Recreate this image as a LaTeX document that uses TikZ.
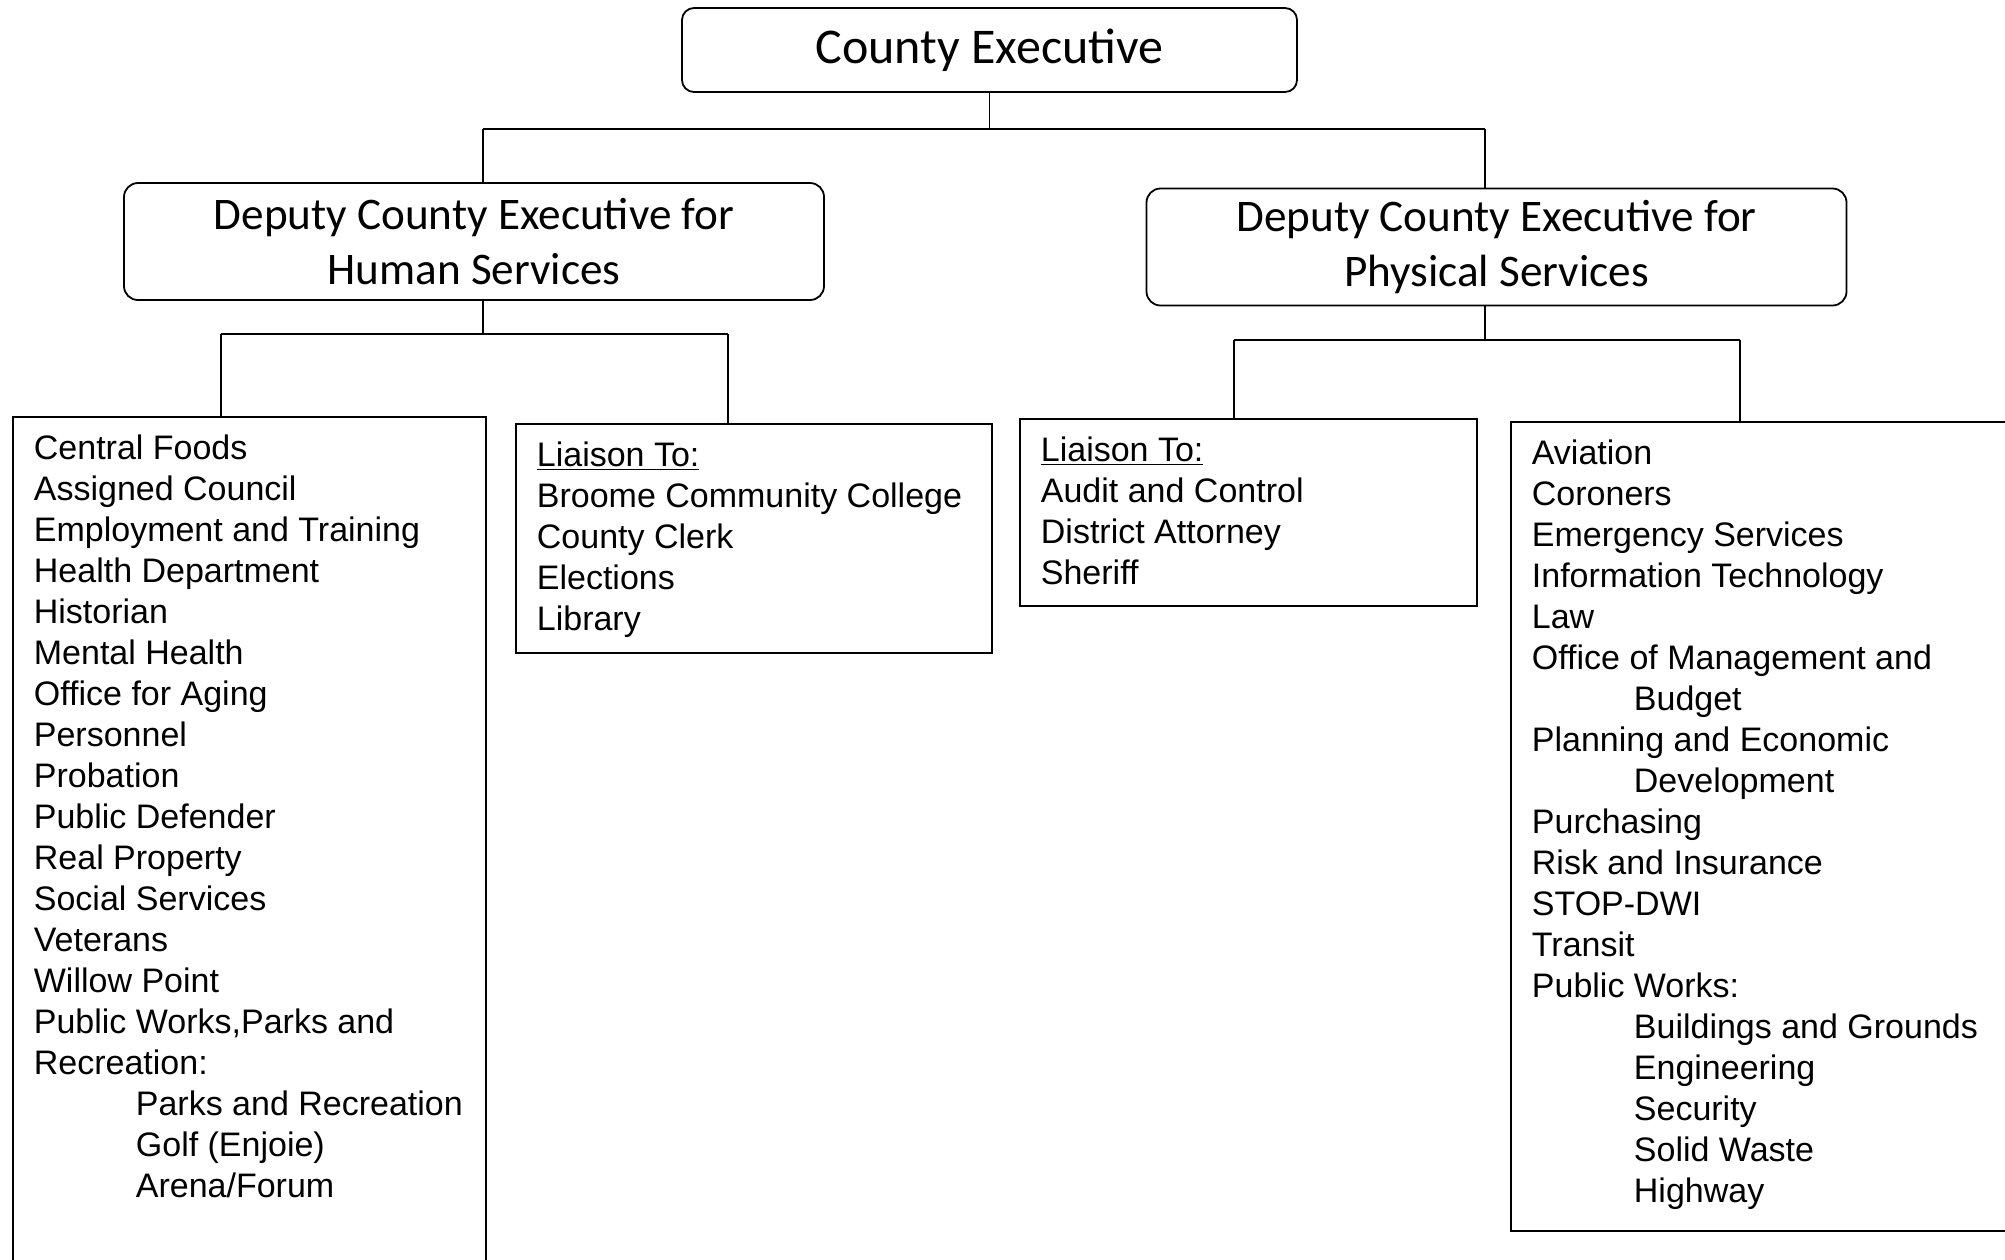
\documentclass[tikz,border=0pt]{standalone}
\usepackage{fontspec}
\setmainfont{Liberation Sans}
\newfontfamily\calfont{Carlito}
\tikzset{
  exec/.style={draw, rounded corners=6pt, line width=0.9pt, minimum width=307.5pt, minimum height=42pt,
    font=\calfont\fontsize{25pt}{30pt}\selectfont},
  deputy/.style={draw, rounded corners=7pt, line width=0.9pt, align=center, minimum width=350pt, minimum height=58.5pt,
    font=\calfont\fontsize{22.6pt}{27.5pt}\selectfont},
  listbox/.style={draw, line width=0.9pt, inner xsep=10.5pt, inner ysep=7pt, anchor=north west,
    font=\fontsize{17pt}{20.5pt}\selectfont},
  conn/.style={line width=0.8pt}
}
\newcommand{\ind}{\hspace*{51pt}}
\begin{document}
\begin{tikzpicture}[x=0.5pt,y=-0.5pt]
        \clip (0,0) rectangle (2005,1259);
        \fill[white] (0,0) rectangle (2005,1259);
        \node[exec] (exec) at (989.5,50) {County Executive};
        \node[deputy] (hsdep) at (474,241.5) {Deputy County Executive for\\Human Services};
        \node[deputy] (psdep) at (1496.5,247) {Deputy County Executive for\\Physical Services};

        \node[listbox] (hslist) at (12,416) {\parbox[t][436pt][t]{215.5pt}{\strut Central Foods\\
          Assigned Council\\
          Employment and Training\\
          Health Department\\
          Historian\\
          Mental Health\\
          Office for Aging\\
          Personnel\\
          Probation\\
          Public Defender\\
          Real Property\\
          Social Services\\
          Veterans\\
          Willow Point\\
          Public Works,Parks and\\
          Recreation:\\
          \ind Parks and Recreation\\
          \ind Golf (Enjoie)\\
          \ind Arena/Forum}};
        \node[listbox] (hslia) at (515,423) {\parbox[t][100.5pt][t]{217pt}{\strut\underline{Liaison To:}\\
          Broome Community College\\
          County Clerk\\
          Elections\\
          Library}};
        \node[listbox] (pslia) at (1019,418) {\parbox[t][79.5pt][t]{207.5pt}{\strut\underline{Liaison To:}\\
          Audit and Control\\
          District Attorney\\
          Sheriff}};
        \node[listbox] (pslist) at (1510,421) {\parbox[t][390.5pt][t]{249pt}{\strut Aviation\\
          Coroners\\
          Emergency Services\\
          Information Technology\\
          Law\\
          Office of Management and\\
          \ind Budget\\
          Planning and Economic\\
          \ind Development\\
          Purchasing\\
          Risk and Insurance\\
          STOP-DWI\\
          Transit\\
          Public Works:\\
          \ind Buildings and Grounds\\
          \ind Engineering\\
          \ind Security\\
          \ind Solid Waste\\
          \ind Highway}};

        \coordinate (t1) at (483,129);
        \coordinate (t2) at (1485,129);
        \coordinate (h1) at (221,334);
        \coordinate (h2) at (728,334);
        \coordinate (p1) at (1234,340);
        \coordinate (p2) at (1740,340);

        \path[draw,conn] (exec.south) -- (exec.south |- t1);
        \path[draw,conn] (t1) -- (t2);
        \path[draw,conn] (t1) -- (t1 |- hsdep.north);
        \path[draw,conn] (t2) -- (t2 |- psdep.north);

        \path[draw,conn] (hsdep.south -| t1) -- (t1 |- h1);
        \path[draw,conn] (h1) -- (h2);
        \path[draw,conn] (h1) -- (h1 |- hslist.north);
        \path[draw,conn] (h2) -- (h2 |- hslia.north);

        \path[draw,conn] (psdep.south -| t2) -- (t2 |- p1);
        \path[draw,conn] (p1) -- (p2);
        \path[draw,conn] (p1) -- (p1 |- pslia.north);
        \path[draw,conn] (p2) -- (p2 |- pslist.north);
    \end{tikzpicture}
\end{document}
